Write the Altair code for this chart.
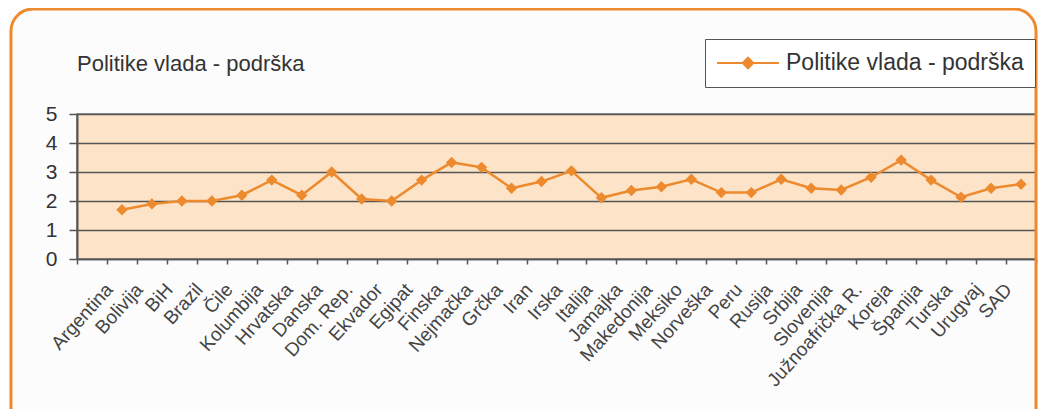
import altair as alt
import pandas as pd

countries = ["Argentina", "Bolivija", "BiH", "Brazil", "Čile", "Kolumbija", "Hrvatska",
             "Danska", "Dom. Rep.", "Ekvador", "Egipat", "Finska", "Nejmačka", "Grčka",
             "Iran", "Irska", "Italija", "Jamajka", "Makedonija", "Meksiko", "Norveška",
             "Peru", "Rusija", "Srbija", "Slovenija", "Južnoafrička R.", "Koreja",
             "Španija", "Turska", "Urugvaj", "SAD"]
values = [1.7, 1.9, 2.0, 2.0, 2.2, 2.72, 2.2, 3.0, 2.07, 2.0, 2.72, 3.33, 3.16, 2.44,
          2.67, 3.04, 2.11, 2.36, 2.49, 2.75, 2.29, 2.29, 2.75, 2.44, 2.38, 2.82, 3.41,
          2.72, 2.13, 2.44, 2.58]
y_ticks = [0, 1, 2, 3, 4, 5]
series_name = "Politike vlada - podrška"

ORANGE = "#ee8a2e"
FONT = "Liberation Sans"

df = pd.DataFrame({"country": countries, "value": values, "series": series_name})
x_domain = [""] + countries

x_enc = alt.X(
    "country:N",
    sort=None,
    scale=alt.Scale(type="band", domain=x_domain, paddingInner=0, paddingOuter=0),
    axis=alt.Axis(
        title=None, labelAngle=-48, labelFontSize=19, labelFont=FONT, labelColor="#444",
        labelPadding=22, labelOffset=-13, tickBand="extent", tickSize=5, tickColor="#555",
        tickWidth=1.5, domainColor="#555", domainWidth=1.5, grid=False, labelLimit=0,
    ),
)
y_enc = alt.Y(
    "value:Q",
    scale=alt.Scale(domain=[0, 5], nice=False, zero=True),
    axis=alt.Axis(
        title=None, values=y_ticks, grid=True, gridColor="#555", gridWidth=1.6,
        labelFontSize=21, labelFont=FONT, labelColor="#333", labelPadding=12,
        tickSize=8, tickColor="#555", tickWidth=1.5, domainColor="#555", domainWidth=2,
    ),
)
color_enc = alt.Color(
    "series:N",
    scale=alt.Scale(domain=[series_name], range=[ORANGE]),
    legend=alt.Legend(
        title=None, orient="none", legendX=628, legendY=-75,
        symbolType="M-1,0L1,0M0,-0.17L0.17,0L0,0.17L-0.17,0Z",
        symbolSize=3844, symbolStrokeWidth=2, symbolFillColor=ORANGE,
        symbolStrokeColor=ORANGE, clipHeight=26, symbolOffset=0,
        labelFontSize=23, labelFont=FONT, labelColor="#333", labelOffset=6,
        labelLimit=0, padding=11, strokeColor="#555", fillColor="#ffffff",
    ),
)

line = alt.Chart(df).mark_line(strokeWidth=2.5).encode(x=x_enc, y=y_enc, color=color_enc)
points = alt.Chart(df).mark_point(shape="diamond", filled=True, size=130, opacity=1).encode(
    x=x_enc, y=y_enc, color=color_enc
)

frame = alt.Chart(pd.DataFrame({"a": [0]})).mark_rect(
    fill=None, stroke=ORANGE, strokeWidth=3, cornerRadius=22
).encode(
    x=alt.value(-66), x2=alt.value(959), y=alt.value(-105), y2=alt.value(330)
)

chart = alt.layer(frame, line, points).properties(
    width=959,
    height=145,
    autosize=alt.AutoSizeParams(type="none"),
    padding={"left": 69, "top": 106, "right": 2, "bottom": 150},
    background="#fcfcfd",
    title=alt.TitleParams(
        text=series_name, anchor="start", frame="group", fontSize=22, font=FONT,
        fontWeight="normal", color="#333", baseline="alphabetic", offset=0, dy=85,
    ),
).configure_view(
    fill="#fde4c9", stroke="#777", strokeWidth=1.5
)

chart.save("out.html", embed_options={"renderer": "svg", "actions": False})
